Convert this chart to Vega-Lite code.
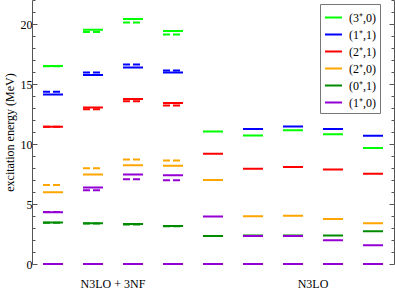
{
  "$schema": "https://vega.github.io/schema/vega-lite/v6.json",
  "width": 362,
  "height": 264,
  "autosize": "none",
  "padding": {"left": 32, "top": 0, "right": 1, "bottom": 29},
  "background": "white",
  "config": {"view": {"stroke": null}, "font": "Liberation Serif, Times New Roman, serif"},
  "datasets": {
    "levels": [
      {"pos": 1, "state": "(1⁺,0)", "style": "solid", "E": 0},
      {"pos": 2, "state": "(1⁺,0)", "style": "solid", "E": 0},
      {"pos": 3, "state": "(1⁺,0)", "style": "solid", "E": 0},
      {"pos": 4, "state": "(1⁺,0)", "style": "solid", "E": 0},
      {"pos": 5, "state": "(1⁺,0)", "style": "solid", "E": 0},
      {"pos": 6, "state": "(1⁺,0)", "style": "solid", "E": 0},
      {"pos": 7, "state": "(1⁺,0)", "style": "solid", "E": 0},
      {"pos": 8, "state": "(1⁺,0)", "style": "solid", "E": 0},
      {"pos": 9, "state": "(1⁺,0)", "style": "solid", "E": 0},

      {"pos": 1, "state": "(3⁺,0)", "style": "solid", "E": 16.5},
      {"pos": 1, "state": "(3⁺,0)", "style": "dashed", "E": 16.48},
      {"pos": 1, "state": "(1⁺,1)", "style": "solid", "E": 14.13},
      {"pos": 1, "state": "(1⁺,1)", "style": "dashed", "E": 14.35},
      {"pos": 1, "state": "(2⁺,1)", "style": "solid", "E": 11.43},
      {"pos": 1, "state": "(2⁺,1)", "style": "dashed", "E": 11.43},
      {"pos": 1, "state": "(2⁺,0)", "style": "solid", "E": 5.98},
      {"pos": 1, "state": "(2⁺,0)", "style": "dashed", "E": 6.59},
      {"pos": 1, "state": "(0⁺,1)", "style": "solid", "E": 3.45},
      {"pos": 1, "state": "(0⁺,1)", "style": "dashed", "E": 3.43},
      {"pos": 1, "state": "(1⁺,0)", "style": "solid", "E": 4.31},
      {"pos": 1, "state": "(1⁺,0)", "style": "dashed", "E": 4.33},

      {"pos": 2, "state": "(3⁺,0)", "style": "solid", "E": 19.52},
      {"pos": 2, "state": "(3⁺,0)", "style": "dashed", "E": 19.33},
      {"pos": 2, "state": "(1⁺,1)", "style": "solid", "E": 15.74},
      {"pos": 2, "state": "(1⁺,1)", "style": "dashed", "E": 15.96},
      {"pos": 2, "state": "(2⁺,1)", "style": "solid", "E": 13.04},
      {"pos": 2, "state": "(2⁺,1)", "style": "dashed", "E": 12.9},
      {"pos": 2, "state": "(2⁺,0)", "style": "solid", "E": 7.45},
      {"pos": 2, "state": "(2⁺,0)", "style": "dashed", "E": 7.98},
      {"pos": 2, "state": "(0⁺,1)", "style": "solid", "E": 3.39},
      {"pos": 2, "state": "(0⁺,1)", "style": "dashed", "E": 3.37},
      {"pos": 2, "state": "(1⁺,0)", "style": "solid", "E": 6.37},
      {"pos": 2, "state": "(1⁺,0)", "style": "dashed", "E": 6.15},

      {"pos": 3, "state": "(3⁺,0)", "style": "solid", "E": 20.42},
      {"pos": 3, "state": "(3⁺,0)", "style": "dashed", "E": 20.13},
      {"pos": 3, "state": "(1⁺,1)", "style": "solid", "E": 16.38},
      {"pos": 3, "state": "(1⁺,1)", "style": "dashed", "E": 16.63},
      {"pos": 3, "state": "(2⁺,1)", "style": "solid", "E": 13.74},
      {"pos": 3, "state": "(2⁺,1)", "style": "dashed", "E": 13.57},
      {"pos": 3, "state": "(2⁺,0)", "style": "solid", "E": 8.23},
      {"pos": 3, "state": "(2⁺,0)", "style": "dashed", "E": 8.7},
      {"pos": 3, "state": "(0⁺,1)", "style": "solid", "E": 3.34},
      {"pos": 3, "state": "(0⁺,1)", "style": "dashed", "E": 3.3},
      {"pos": 3, "state": "(1⁺,0)", "style": "solid", "E": 7.45},
      {"pos": 3, "state": "(1⁺,0)", "style": "dashed", "E": 7.07},

      {"pos": 4, "state": "(3⁺,0)", "style": "solid", "E": 19.41},
      {"pos": 4, "state": "(3⁺,0)", "style": "dashed", "E": 19.13},
      {"pos": 4, "state": "(1⁺,1)", "style": "solid", "E": 15.96},
      {"pos": 4, "state": "(1⁺,1)", "style": "dashed", "E": 16.13},
      {"pos": 4, "state": "(2⁺,1)", "style": "solid", "E": 13.41},
      {"pos": 4, "state": "(2⁺,1)", "style": "dashed", "E": 13.21},
      {"pos": 4, "state": "(2⁺,0)", "style": "solid", "E": 8.18},
      {"pos": 4, "state": "(2⁺,0)", "style": "dashed", "E": 8.62},
      {"pos": 4, "state": "(0⁺,1)", "style": "solid", "E": 3.17},
      {"pos": 4, "state": "(0⁺,1)", "style": "dashed", "E": 3.15},
      {"pos": 4, "state": "(1⁺,0)", "style": "solid", "E": 7.4},
      {"pos": 4, "state": "(1⁺,0)", "style": "dashed", "E": 6.98},

      {"pos": 5, "state": "(3⁺,0)", "style": "solid", "E": 11.04},
      {"pos": 5, "state": "(2⁺,1)", "style": "solid", "E": 9.18},
      {"pos": 5, "state": "(2⁺,0)", "style": "solid", "E": 7.01},
      {"pos": 5, "state": "(1⁺,0)", "style": "solid", "E": 3.95},
      {"pos": 5, "state": "(0⁺,1)", "style": "solid", "E": 2.34},

      {"pos": 6, "state": "(1⁺,1)", "style": "solid", "E": 11.24},
      {"pos": 6, "state": "(3⁺,0)", "style": "solid", "E": 10.71},
      {"pos": 6, "state": "(2⁺,1)", "style": "solid", "E": 7.93},
      {"pos": 6, "state": "(2⁺,0)", "style": "solid", "E": 3.98},
      {"pos": 6, "state": "(0⁺,1)", "style": "solid", "E": 2.37},
      {"pos": 6, "state": "(1⁺,0)", "style": "solid", "E": 2.33},

      {"pos": 7, "state": "(1⁺,1)", "style": "solid", "E": 11.46},
      {"pos": 7, "state": "(3⁺,0)", "style": "solid", "E": 11.15},
      {"pos": 7, "state": "(2⁺,1)", "style": "solid", "E": 8.09},
      {"pos": 7, "state": "(2⁺,0)", "style": "solid", "E": 4.03},
      {"pos": 7, "state": "(0⁺,1)", "style": "solid", "E": 2.37},
      {"pos": 7, "state": "(1⁺,0)", "style": "solid", "E": 2.33},

      {"pos": 8, "state": "(1⁺,1)", "style": "solid", "E": 11.24},
      {"pos": 8, "state": "(3⁺,0)", "style": "solid", "E": 10.82},
      {"pos": 8, "state": "(2⁺,1)", "style": "solid", "E": 7.87},
      {"pos": 8, "state": "(2⁺,0)", "style": "solid", "E": 3.75},
      {"pos": 8, "state": "(0⁺,1)", "style": "solid", "E": 2.37},
      {"pos": 8, "state": "(1⁺,0)", "style": "solid", "E": 1.98},

      {"pos": 9, "state": "(1⁺,1)", "style": "solid", "E": 10.68},
      {"pos": 9, "state": "(3⁺,0)", "style": "solid", "E": 9.66},
      {"pos": 9, "state": "(2⁺,1)", "style": "solid", "E": 7.53},
      {"pos": 9, "state": "(2⁺,0)", "style": "solid", "E": 3.4},
      {"pos": 9, "state": "(0⁺,1)", "style": "solid", "E": 2.73},
      {"pos": 9, "state": "(1⁺,0)", "style": "solid", "E": 1.56}
    ]
  },
  "layer": [
    {
      "data": {"name": "levels"},
      "mark": {"type": "rule", "strokeWidth": 2, "xOffset": -10, "x2Offset": 10},
      "encoding": {
        "x": {
          "field": "pos", "type": "quantitative",
          "scale": {"domain": [0.475, 9.525], "nice": false, "zero": false},
          "axis": {
            "orient": "bottom", "values": [1, 2, 3, 4, 5, 6, 7, 8, 9],
            "labelExpr": "['','2','4','6','8','expt','8','6','4','2'][datum.value]",
            "ticks": false, "grid": false, "title": null, "domain": true, "zindex": 1,
            "domainColor": "#777", "domainWidth": 1.5, "labelFontSize": 12, "labelColor": "black",
            "labelPadding": 3, "labelFont": "Liberation Serif, Times New Roman, serif", "labelFlush": false
          }
        },
        "x2": {"field": "pos"},
        "y": {
          "field": "E", "type": "quantitative",
          "scale": {"domain": [0, 22], "nice": false},
          "axis": {
            "orient": "left",
            "values": [0,1,2,3,4,5,6,7,8,9,10,11,12,13,14,15,16,17,18,19,20,21,22],
            "labelExpr": "datum.value % 5 === 0 ? datum.label : ''",
            "tickSize": {"condition": {"test": "datum.value % 5 === 0", "value": -5}, "value": -3},
            "tickColor": "#555", "domainColor": "#555", "grid": false,
            "labelFontSize": 12, "labelColor": "black", "labelFont": "Liberation Serif, Times New Roman, serif",
            "labelPadding": 5, "title": "excitation energy  (MeV)",
            "titleFont": "Liberation Serif, Times New Roman, serif", "titleFontSize": 12, "titleFontWeight": "normal",
            "titleColor": "black", "titlePadding": 4
          }
        },
        "color": {
          "field": "state", "type": "nominal",
          "scale": {
            "domain": ["(3⁺,0)", "(1⁺,1)", "(2⁺,1)", "(2⁺,0)", "(0⁺,1)", "(1⁺,0)"],
            "range": ["#00ff00", "#0000ff", "#ff0000", "#ffa500", "#008b00", "#9400d3"]
          },
          "legend": {
            "orient": "none", "legendX": 288, "legendY": 4, "title": null,
            "symbolType": "stroke", "symbolStrokeWidth": 2, "symbolSize": 289,
            "labelFontSize": 12, "labelFont": "Liberation Serif, Times New Roman, serif", "labelColor": "black",
            "fillColor": "white", "strokeColor": "#777", "padding": 4, "rowPadding": 1,
            "labelOffset": 6
          }
        },
        "strokeDash": {
          "field": "style", "type": "nominal",
          "scale": {"domain": ["solid", "dashed"], "range": [[1, 0], [7, 3]]},
          "legend": null
        }
      }
    },
    {
      "data": {"values": [
        {"label": "N3LO + 3NF", "pos": 2.5, "E": -1.625},
        {"label": "N3LO", "pos": 7.5, "E": -1.625}
      ]},
      "mark": {"type": "text", "fontSize": 12, "font": "Liberation Serif, Times New Roman, serif", "color": "black", "baseline": "middle", "align": "center"},
      "encoding": {
        "x": {"field": "pos", "type": "quantitative", "axis": null},
        "y": {
          "field": "E", "type": "quantitative",
          "axis": {
            "orient": "right",
            "values": [0,1,2,3,4,5,6,7,8,9,10,11,12,13,14,15,16,17,18,19,20,21,22],
            "labels": false,
            "tickSize": {"condition": {"test": "datum.value % 5 === 0", "value": -5}, "value": -3},
            "tickColor": "#555", "domainColor": "#555", "grid": false, "title": null
          }
        },
        "text": {"field": "label"}
      }
    }
  ],
  "resolve": {"axis": {"y": "independent"}}
}
